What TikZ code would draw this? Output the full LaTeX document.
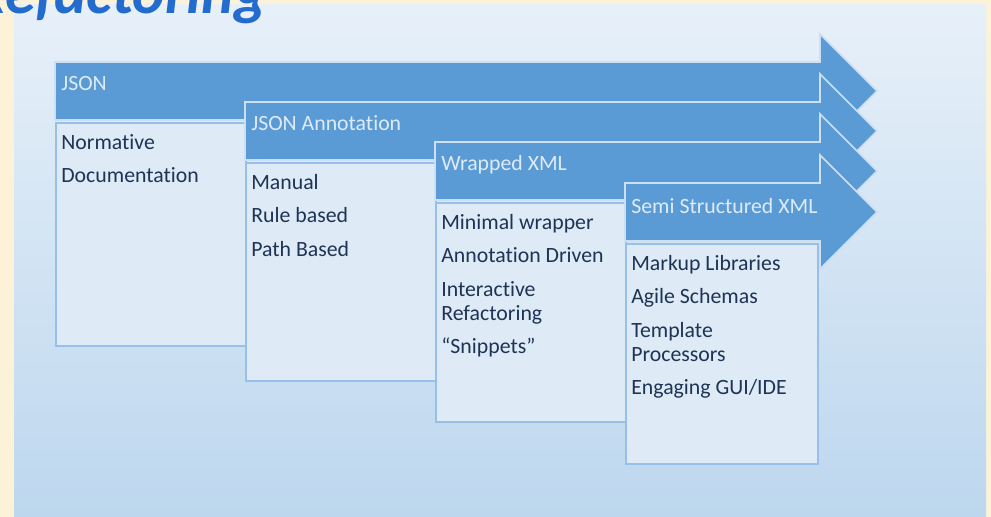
\documentclass[tikz,border=0pt]{standalone}
\usepackage{fontspec}
\setmainfont{Carlito}[Ligatures=NoCommon]
\definecolor{creamback}{RGB}{252,242,216}
\definecolor{paneltop}{RGB}{231,240,249}
\definecolor{panelbottom}{RGB}{189,215,238}
\definecolor{bandblue}{RGB}{91,155,213}
\definecolor{bandedge}{RGB}{205,224,243}
\definecolor{boxfill}{RGB}{222,234,246}
\definecolor{boxedge}{RGB}{150,192,232}
\definecolor{headtext}{RGB}{222,235,247}
\definecolor{itemtext}{RGB}{30,52,84}
\definecolor{titleblue}{RGB}{35,108,205}

\begin{document}
\begin{tikzpicture}[x=0.02cm, y=-0.02cm,
        band/.style={fill=bandblue, draw=bandedge, line width=0.9pt},
        itembox/.style={rectangle, draw=boxedge, fill=boxfill, line width=0.9pt, anchor=north west, minimum width=3.8cm, inner sep=0pt},
        head/.style={anchor=base west, inner sep=0pt, text=headtext, font=\fontsize{12.4}{14}\selectfont},
        items/.style={anchor=north west, inner sep=0pt, align=left, text=itemtext, font=\fontsize{12.4}{13.7}\selectfont},
        title/.style={anchor=base east, inner sep=0pt, text=titleblue, font=\fontsize{35}{40}\selectfont\bfseries\itshape}
    ]
        \useasboundingbox (0,0) rectangle (991,517);
        \clip (0,0) rectangle (991,517);

        % slide background
        \fill[creamback] (0,0) rectangle (991,517);
        \shade[top color=paneltop, bottom color=panelbottom] (14,5) rectangle (986,517);
        \node[title] (title) at (267,14) {Refactoring};

        % JSON
        \draw[band] (55,62) -- (820,62) -- (820,34) -- (877,91) -- (820,148) -- (820,120) -- (55,120) -- cycle;
        \node[head] (json) at (61,91) {JSON};
        \node[itembox, minimum height=4.46cm] (box1) at (55,122) {};
        \node[items] (list1) at ([xshift=0.12cm, yshift=-0.2cm]box1.north west) {\strut Normative\\[5.35pt]Documentation};

        % JSON Annotation
        \draw[band] (245,102) -- (820,102) -- (820,74) -- (877,131) -- (820,188) -- (820,160) -- (245,160) -- cycle;
        \node[head] (annotation) at (251,131) {JSON Annotation};
        \node[itembox, minimum height=4.36cm] (box2) at (245,162) {};
        \node[items] (list2) at ([xshift=0.12cm, yshift=-0.2cm]box2.north west) {\strut Manual\\[5.35pt]Rule based\\[5.35pt]Path Based};

        % Wrapped XML
        \draw[band] (435,142) -- (820,142) -- (820,114) -- (877,171) -- (820,228) -- (820,200) -- (435,200) -- cycle;
        \node[head] (wrapped) at (441,171) {Wrapped XML};
        \node[itembox, minimum height=4.38cm] (box3) at (435,202) {};
        \node[items] (list3) at ([xshift=0.12cm, yshift=-0.2cm]box3.north west) {\strut Minimal wrapper\\[5.35pt]Annotation Driven\\[5.35pt]Interactive\\Refactoring\\[5.35pt]“Snippets”};

        % Semi Structured XML
        \draw[band] (625,183) -- (820,183) -- (820,155) -- (877,212) -- (820,269) -- (820,241) -- (625,241) -- cycle;
        \node[head] (semi) at (631,214) {Semi Structured XML};
        \node[itembox, minimum width=3.84cm, minimum height=4.4cm] (box4) at (625,243) {};
        \node[items] (list4) at ([xshift=0.12cm, yshift=-0.2cm]box4.north west) {\strut Markup Libraries\\[5.35pt]Agile Schemas\\[5.35pt]Template\\Processors\\[5.35pt]Engaging GUI/IDE};
    \end{tikzpicture}
\end{document}
